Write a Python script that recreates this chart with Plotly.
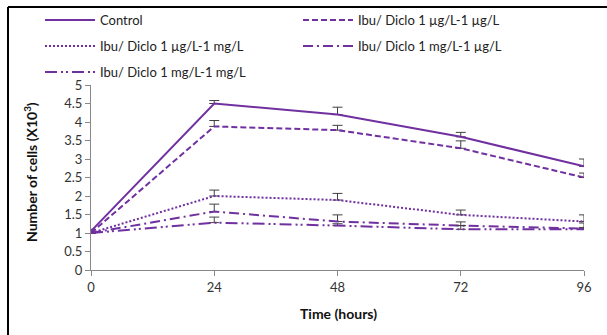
import plotly.graph_objects as go

hours = [0, 24, 48, 72, 96]
names = ["Control", "Ibu/ Diclo 1 µg/L-1 µg/L", "Ibu/ Diclo 1 µg/L-1 mg/L",
         "Ibu/ Diclo 1 mg/L-1 µg/L", "Ibu/ Diclo 1 mg/L-1 mg/L"]
control = [1.05, 4.5, 4.2, 3.6, 2.8]
ug_ug = [1.0, 3.88, 3.78, 3.29, 2.5]
ug_mg = [1.0, 2.0, 1.89, 1.49, 1.31]
mg_ug = [1.0, 1.58, 1.31, 1.2, 1.12]
mg_mg = [1.0, 1.28, 1.2, 1.1, 1.1]
err_control = [0.05, 0.08, 0.2, 0.12, 0.2]
err_ug_ug = [0.0, 0.16, 0.13, 0.2, 0.12]
err_ug_mg = [0.0, 0.16, 0.18, 0.13, 0.18]
err_mg_ug = [0.0, 0.2, 0.18, 0.1, 0.15]
err_mg_mg = [0.0, 0.15, 0.05, 0.1, 0.05]

series = [control, ug_ug, ug_mg, mg_ug, mg_mg]
errors = [err_control, err_ug_ug, err_ug_mg, err_mg_ug, err_mg_mg]
dashes = ["solid", "6px,3px", "2px,2px", "10px,4px,2px,4px", "12px,4px,2px,3px,2px,4px"]
legend_ids = ["legend", "legend2", "legend3", "legend4", "legend5"]
leg_x = [40 / 607, 298 / 607, 40 / 607, 298 / 607, 40 / 607]
leg_y = [1 - 20 / 335, 1 - 20 / 335, 1 - 46 / 335, 1 - 46 / 335, 1 - 72 / 335]
purple = "#7030A0"
font = "Lato, 'Open Sans', sans-serif"

fig = go.Figure()
for name, y, e, d, lg in zip(names, series, errors, dashes, legend_ids):
    fig.add_trace(go.Scatter(
        x=hours, y=y, name=name, mode="lines", legend=lg,
        line=dict(color=purple, width=2, dash=d),
        error_y=dict(type="data", array=e, arrayminus=[0]*len(e), symmetric=False,
                     color="#404040", thickness=1, width=5),
        cliponaxis=False,
    ))

layout_legends = {}
for lg, lx, ly in zip(legend_ids, leg_x, leg_y):
    layout_legends[lg] = dict(
        xref="container", yref="container", x=lx, y=ly,
        xanchor="left", yanchor="middle", itemwidth=50,
        font=dict(family=font, size=13, color="#222"),
        bgcolor="rgba(0,0,0,0)", borderwidth=0)

fig.update_layout(
    width=607, height=335,
    margin=dict(l=91, r=23, t=85, b=65, autoexpand=False),
    plot_bgcolor="white", paper_bgcolor="white",
    showlegend=True,
    **layout_legends,
    xaxis=dict(range=[0, 96], tickvals=hours, ticks="outside", ticklen=5,
               tickcolor="#888", showline=True, linecolor="#888", linewidth=1,
               showgrid=False, zeroline=False,
               tickfont=dict(family=font, size=13, color="#333")),
    yaxis=dict(range=[0, 5], dtick=0.5, ticks="outside", ticklen=5,
               tickcolor="#888", showline=True, linecolor="#888", linewidth=1,
               showgrid=False, zeroline=False,
               tickfont=dict(family=font, size=13, color="#333")),
    annotations=[
        dict(text="<b>Time (hours)</b>", xref="paper", yref="paper",
             x=(338 - 91) / 493, y=(270 - 313) / 185, showarrow=False,
             xanchor="center", yanchor="middle",
             font=dict(family=font, size=14, color="#111")),
        dict(text="<b>Number of cells (X10<sup>3</sup>)</b>", xref="paper", yref="paper",
             x=(30 - 91) / 493, y=(270 - 172) / 185, showarrow=False, textangle=-90,
             xanchor="center", yanchor="middle",
             font=dict(family=font, size=14, color="#111")),
    ],
)
# frame (top and left edges visible in the cropped original)
fig.add_shape(type="line", xref="paper", yref="paper",
              x0=(8 - 91) / 493, x1=(610 - 91) / 493, y0=(270 - 7) / 185, y1=(270 - 7) / 185,
              line=dict(color="black", width=2))
fig.add_shape(type="line", xref="paper", yref="paper",
              x0=(8 - 91) / 493, x1=(8 - 91) / 493, y0=(270 - 7) / 185, y1=(270 - 340) / 185,
              line=dict(color="black", width=2))
fig.write_html("out.html", config={"displayModeBar": False},
               post_script="document.body.style.margin='0';")
